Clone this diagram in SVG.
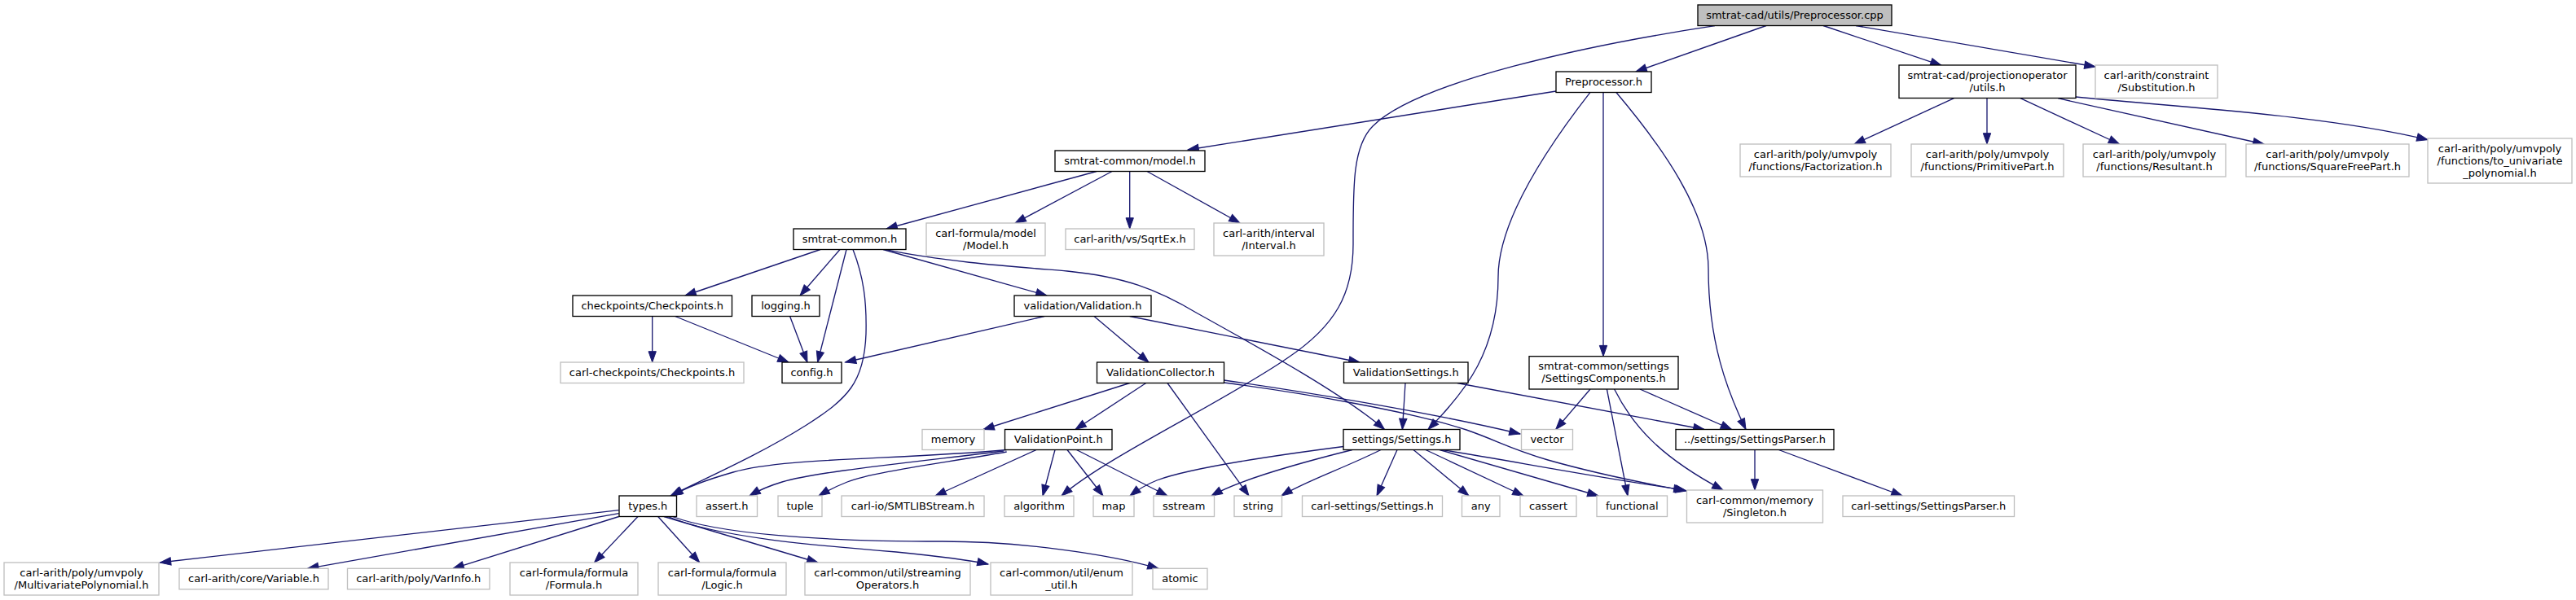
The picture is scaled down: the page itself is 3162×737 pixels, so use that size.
<svg xmlns="http://www.w3.org/2000/svg" width="3162" height="737" viewBox="0 0 3162 737">
<style>
.n rect{fill:#fff;stroke:#000;stroke-width:1.33}
.x rect{fill:#fff;stroke:#bfbfbf;stroke-width:1.33}
.r rect{fill:#bfbfbf;stroke:#000;stroke-width:1.33}
text{font-family:"DejaVu Sans",sans-serif;font-size:13px;text-anchor:middle;fill:#000}
#edges path{fill:none;stroke:#191970;stroke-width:1.33;marker-end:url(#a)}
</style>
<defs>
<marker id="a" markerUnits="userSpaceOnUse" viewBox="0 0 14 10" markerWidth="14" markerHeight="10" refX="13.3" refY="4.67" orient="auto" overflow="visible">
<path d="M0,0 L13.3,4.67 L0,9.33 z" fill="#191970" stroke="#191970" stroke-width="1"/>
</marker>
</defs>
<rect width="3162" height="737" fill="#fff"/>
<g id="edges">
<path d="M2168,31.5 L2008,88"/>
<path d="M2238,31.5 L2383,80.3"/>
<path d="M2278,31.5 L2572,82"/>
<path d="M2105,31.7 C1950,55 1740,100 1685,155 C1660,180 1661,230 1661,300 C1661,360 1640,400 1580,440 C1500,495 1360,560 1303,609"/>
<path d="M1910,112 L1458,184"/>
<path d="M1952,113.3 C1900,180 1839,270 1839,340 C1839,430 1800,480 1753,527.5"/>
<path d="M1968,113.3 L1968,437.7"/>
<path d="M1983.7,113.3 C2040,180 2097,260 2097,330 C2097,420 2120,480 2143,527.5"/>
<path d="M2398.5,120.7 L2276,177"/>
<path d="M2439,120.7 L2439,177"/>
<path d="M2480,120.7 L2601.6,177"/>
<path d="M2526,120.7 L2779,177"/>
<path d="M2548,119 C2650,130 2850,140 2980,171.7"/>
<path d="M1346,210.5 L1088,281"/>
<path d="M1365,210.5 L1246,274"/>
<path d="M1386.7,210.5 L1386.7,281"/>
<path d="M1408,210.5 L1522,274"/>
<path d="M1007,306.5 L841,363"/>
<path d="M1031,306.5 L982,363"/>
<path d="M1039,306.5 L1003.6,445"/>
<path d="M1047,306.5 C1060,340 1064,370 1063,410 C1061,470 1040,490 990,522 C930,560 860,590 823,609"/>
<path d="M1084,306.5 L1285,363"/>
<path d="M1087.5,306.7 C1160,322 1250,328 1310,333 C1380,340 1420,355 1470,385 C1560,435 1650,485 1699.5,527.5"/>
<path d="M800.7,388.5 L800.7,445"/>
<path d="M828.6,388.5 L968,445"/>
<path d="M969.6,388.5 L991,445"/>
<path d="M1282,388.5 L1037.5,445"/>
<path d="M1343,388.5 L1410,445"/>
<path d="M1386.7,388.5 L1669,445"/>
<path d="M1386.7,470.5 L1207,527.5"/>
<path d="M1406.7,470.5 L1320,527.5"/>
<path d="M1433,470.5 L1533,609"/>
<path d="M1502.5,467 C1580,478 1750,505 1866,533"/>
<path d="M1502.5,470 C1600,483 1730,505 1800,528 C1840,542 1850,550 1900,565 C1960,582 2020,594 2070,603"/>
<path d="M1725,470.5 L1721.4,527.5"/>
<path d="M1788.8,470.5 L2092,527.5"/>
<path d="M1952,478 L1909.7,527.5"/>
<path d="M1972.4,478 L1998,609"/>
<path d="M1981.6,478 C2005,525 2040,562 2115,602"/>
<path d="M2013,478 L2125.5,527.5"/>
<path d="M1235.7,552.5 C1100,565 960,562 900,580 C865,590 840,600 825,609"/>
<path d="M1232,554 C1100,570 1000,580 960,592 C940,598 930,603 920,609"/>
<path d="M1235.7,555 C1150,570 1070,580 1040,592 C1025,598 1015,603 1005,609"/>
<path d="M1272,552.5 L1148,609"/>
<path d="M1295,552.5 L1280,609"/>
<path d="M1310,552.5 L1354,609"/>
<path d="M1321.4,552.5 L1433,609"/>
<path d="M1649,548.5 C1560,560 1460,575 1420,590 C1405,596 1396,602 1387,609"/>
<path d="M1660,552.5 C1590,570 1520,590 1487,609"/>
<path d="M1695,552.5 C1650,575 1600,592 1573,609"/>
<path d="M1715,552.5 L1690,609"/>
<path d="M1735,552.5 L1803,609"/>
<path d="M1750,552.5 L1870,609"/>
<path d="M1767,552.5 L1962,609"/>
<path d="M1770,552.5 C1850,565 1950,585 2068,602"/>
<path d="M2154,552.5 L2154,602"/>
<path d="M2183.3,552.5 L2335,609"/>
<path d="M759.7,626.7 L196.4,691"/>
<path d="M759.7,630.7 L377.6,698.3"/>
<path d="M759.7,634.5 L556,698.3"/>
<path d="M783,634.5 L729.6,691"/>
<path d="M807.7,634.5 L858.7,691"/>
<path d="M815,634.5 L1004,691"/>
<path d="M820,634.5 C880,660 1000,670 1100,678 C1150,683 1190,688 1213,693"/>
<path d="M825.5,634.5 C880,655 1000,665 1157,665 C1250,665 1360,680 1422,698.3"/>
</g>
<g id="n_root" class="r"><rect x="2084" y="6" width="238" height="25.5"/><text x="2203" y="22.75">smtrat-cad/utils/Preprocessor.cpp</text></g>
<g id="n_preprocessor_h" class="n"><rect x="1910" y="88" width="117" height="25.5"/><text x="1968.5" y="104.75">Preprocessor.h</text></g>
<g id="n_utils_h" class="n"><rect x="2331" y="80" width="217" height="40.5"/><text x="2439.5" y="96.75">smtrat-cad/projectionoperator</text><text x="2439.5" y="111.75">/utils.h</text></g>
<g id="n_substitution" class="x"><rect x="2572" y="80" width="150" height="40.5"/><text x="2647" y="96.75">carl-arith/constraint</text><text x="2647" y="111.75">/Substitution.h</text></g>
<g id="n_factorization" class="x"><rect x="2136" y="177" width="185" height="40"/><text x="2228.5" y="193.5">carl-arith/poly/umvpoly</text><text x="2228.5" y="208.5">/functions/Factorization.h</text></g>
<g id="n_primitivepart" class="x"><rect x="2346" y="177" width="187" height="40"/><text x="2439.5" y="193.5">carl-arith/poly/umvpoly</text><text x="2439.5" y="208.5">/functions/PrimitivePart.h</text></g>
<g id="n_resultant" class="x"><rect x="2557" y="177" width="175" height="40"/><text x="2644.5" y="193.5">carl-arith/poly/umvpoly</text><text x="2644.5" y="208.5">/functions/Resultant.h</text></g>
<g id="n_squarefreepart" class="x"><rect x="2757" y="177" width="200" height="40"/><text x="2857" y="193.5">carl-arith/poly/umvpoly</text><text x="2857" y="208.5">/functions/SquareFreePart.h</text></g>
<g id="n_to_univariate" class="x"><rect x="2980" y="170" width="177" height="55"/><text x="3068.5" y="186.5">carl-arith/poly/umvpoly</text><text x="3068.5" y="201.5">/functions/to_univariate</text><text x="3068.5" y="216.5">_polynomial.h</text></g>
<g id="n_model_h" class="n"><rect x="1295" y="185" width="184" height="25.5"/><text x="1387" y="201.75">smtrat-common/model.h</text></g>
<g id="n_smtrat_common_h" class="n"><rect x="974" y="281" width="138" height="25.5"/><text x="1043" y="297.75">smtrat-common.h</text></g>
<g id="n_formula_model" class="x"><rect x="1137" y="274" width="146" height="40"/><text x="1210" y="290.5">carl-formula/model</text><text x="1210" y="305.5">/Model.h</text></g>
<g id="n_sqrtex" class="x"><rect x="1308" y="281" width="158" height="25.5"/><text x="1387" y="297.75">carl-arith/vs/SqrtEx.h</text></g>
<g id="n_interval" class="x"><rect x="1490" y="274" width="135" height="40"/><text x="1557.5" y="290.5">carl-arith/interval</text><text x="1557.5" y="305.5">/Interval.h</text></g>
<g id="n_checkpoints" class="n"><rect x="703" y="363" width="195.5" height="25.5"/><text x="800.75" y="379.75">checkpoints/Checkpoints.h</text></g>
<g id="n_logging" class="n"><rect x="923" y="363" width="83" height="25.5"/><text x="964.5" y="379.75">logging.h</text></g>
<g id="n_validation" class="n"><rect x="1245" y="363" width="168" height="25.5"/><text x="1329" y="379.75">validation/Validation.h</text></g>
<g id="n_carl_checkpoints" class="x"><rect x="688" y="445" width="225" height="25.5"/><text x="800.5" y="461.75">carl-checkpoints/Checkpoints.h</text></g>
<g id="n_config" class="n"><rect x="960" y="445" width="73" height="25.5"/><text x="996.5" y="461.75">config.h</text></g>
<g id="n_validationcollector" class="n"><rect x="1346.5" y="445" width="156" height="25.5"/><text x="1424.5" y="461.75">ValidationCollector.h</text></g>
<g id="n_validationsettings" class="n"><rect x="1649.5" y="445" width="152.5" height="25.5"/><text x="1725.75" y="461.75">ValidationSettings.h</text></g>
<g id="n_settingscomponents" class="n"><rect x="1877" y="437.7" width="183" height="40.3"/><text x="1968.5" y="454.35">smtrat-common/settings</text><text x="1968.5" y="469.35">/SettingsComponents.h</text></g>
<g id="n_memory" class="x"><rect x="1132" y="527.5" width="76" height="25"/><text x="1170" y="544">memory</text></g>
<g id="n_validationpoint" class="n"><rect x="1233.5" y="527.5" width="131.5" height="25"/><text x="1299.25" y="544">ValidationPoint.h</text></g>
<g id="n_settings_h" class="n"><rect x="1649" y="527.5" width="143" height="25"/><text x="1720.5" y="544">settings/Settings.h</text></g>
<g id="n_vector" class="x"><rect x="1867.5" y="527.5" width="63" height="25"/><text x="1899" y="544">vector</text></g>
<g id="n_settingsparser" class="n"><rect x="2057" y="527.5" width="194" height="25"/><text x="2154" y="544">../settings/SettingsParser.h</text></g>
<g id="n_types" class="n"><rect x="760" y="609" width="70.5" height="25.5"/><text x="795.25" y="625.75">types.h</text></g>
<g id="n_assert" class="x"><rect x="855" y="609" width="74.5" height="25.5"/><text x="892.25" y="625.75">assert.h</text></g>
<g id="n_tuple" class="x"><rect x="955" y="609" width="54" height="25.5"/><text x="982" y="625.75">tuple</text></g>
<g id="n_smtlibstream" class="x"><rect x="1033" y="609" width="175" height="25.5"/><text x="1120.5" y="625.75">carl-io/SMTLIBStream.h</text></g>
<g id="n_algorithm" class="x"><rect x="1233" y="609" width="85" height="25.5"/><text x="1275.5" y="625.75">algorithm</text></g>
<g id="n_map" class="x"><rect x="1342" y="609" width="50" height="25.5"/><text x="1367" y="625.75">map</text></g>
<g id="n_sstream" class="x"><rect x="1416" y="609" width="74.5" height="25.5"/><text x="1453.25" y="625.75">sstream</text></g>
<g id="n_string" class="x"><rect x="1515" y="609" width="58.5" height="25.5"/><text x="1544.25" y="625.75">string</text></g>
<g id="n_carl_settings" class="x"><rect x="1598.5" y="609" width="172" height="25.5"/><text x="1684.5" y="625.75">carl-settings/Settings.h</text></g>
<g id="n_any" class="x"><rect x="1794.5" y="609" width="46.5" height="25.5"/><text x="1817.75" y="625.75">any</text></g>
<g id="n_cassert" class="x"><rect x="1866" y="609" width="69" height="25.5"/><text x="1900.5" y="625.75">cassert</text></g>
<g id="n_functional" class="x"><rect x="1960" y="609" width="86.5" height="25.5"/><text x="2003.25" y="625.75">functional</text></g>
<g id="n_singleton" class="x"><rect x="2070.5" y="602" width="167" height="40"/><text x="2154" y="618.5">carl-common/memory</text><text x="2154" y="633.5">/Singleton.h</text></g>
<g id="n_carl_settingsparser" class="x"><rect x="2262" y="609" width="210.5" height="25.5"/><text x="2367.25" y="625.75">carl-settings/SettingsParser.h</text></g>
<g id="n_multivariate" class="x"><rect x="5" y="691" width="190" height="40"/><text x="100" y="707.5">carl-arith/poly/umvpoly</text><text x="100" y="722.5">/MultivariatePolynomial.h</text></g>
<g id="n_variable" class="x"><rect x="220" y="698.3" width="183" height="25.5"/><text x="311.5" y="715">carl-arith/core/Variable.h</text></g>
<g id="n_varinfo" class="x"><rect x="426.5" y="698.3" width="174.5" height="25.5"/><text x="513.75" y="715">carl-arith/poly/VarInfo.h</text></g>
<g id="n_formula" class="x"><rect x="626" y="691" width="157" height="40"/><text x="704.5" y="707.5">carl-formula/formula</text><text x="704.5" y="722.5">/Formula.h</text></g>
<g id="n_logic" class="x"><rect x="808" y="691" width="157" height="40"/><text x="886.5" y="707.5">carl-formula/formula</text><text x="886.5" y="722.5">/Logic.h</text></g>
<g id="n_streaming" class="x"><rect x="988" y="691" width="203" height="40"/><text x="1089.5" y="707.5">carl-common/util/streaming</text><text x="1089.5" y="722.5">Operators.h</text></g>
<g id="n_enum_util" class="x"><rect x="1216" y="691" width="174" height="40"/><text x="1303" y="707.5">carl-common/util/enum</text><text x="1303" y="722.5">_util.h</text></g>
<g id="n_atomic" class="x"><rect x="1415" y="698.3" width="67" height="25.5"/><text x="1448.5" y="715">atomic</text></g>
</svg>
